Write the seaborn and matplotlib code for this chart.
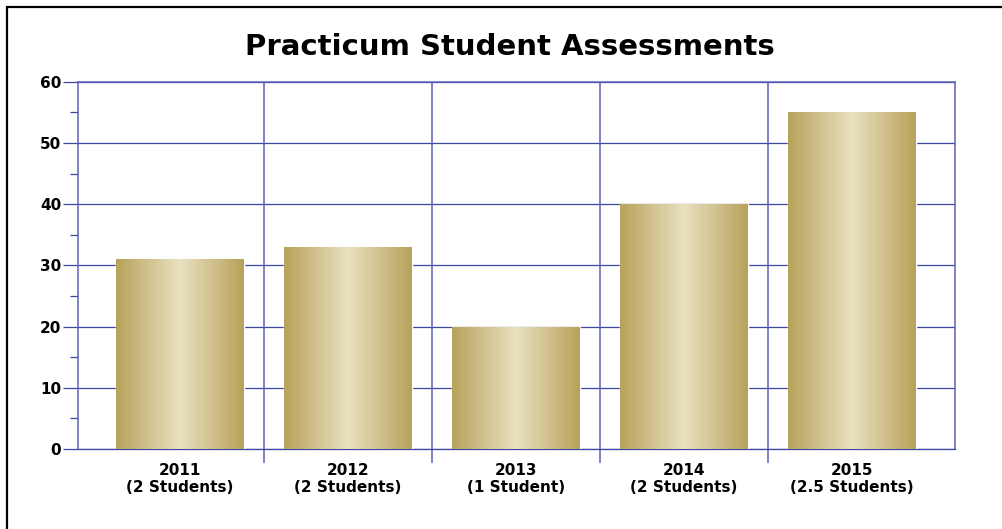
import numpy as np
import matplotlib.pyplot as plt
import seaborn as sns
from matplotlib.colors import LinearSegmentedColormap
from matplotlib.patches import Rectangle

years = ["2011", "2012", "2013", "2014", "2015"]
students = ["(2 Students)", "(2 Students)", "(1 Student)", "(2 Students)", "(2.5 Students)"]
scores = [31, 33, 20, 40, 55]

labels = [f"{y}\n{s}" for y, s in zip(years, students)]

sns.set_theme(style="white")
plt.rcParams['font.family'] = ['DejaVu Sans']

grid_col = '#3d45a2'
vgrid_col = '#5a62b6'

fig = plt.figure(figsize=(10.03, 5.29), dpi=100)
ax = fig.add_axes([0.0778, 0.1512, 0.874, 0.694])

sns.barplot(x=labels, y=scores, width=0.76, color='#c8b57a', ax=ax, zorder=3)

# gold gradient on each bar
gold = LinearSegmentedColormap.from_list('gold', ['#b8a15b', '#e9e1c1', '#b8a15b'])
grad = np.linspace(0, 1, 256).reshape(1, -1)
for p in ax.patches:
    x0, y0 = p.get_x(), p.get_y()
    w, h = p.get_width(), p.get_height()
    im = ax.imshow(grad, cmap=gold, aspect='auto', extent=[x0, x0 + w, y0, y0 + h],
                   zorder=4, interpolation='bicubic')
    im.set_clip_path(p)

ax.set_xlim(-0.607, 4.613)
ax.set_ylim(0, 60)
ax.set_yticks(range(0, 61, 10))
ax.set_yticks(range(5, 60, 10), minor=True)
ax.set_xticks(range(len(labels)))
ax.set_xticklabels(labels)
ax.set_xticks([0.5, 1.5, 2.5, 3.5], minor=True)

ax.yaxis.grid(True, color=grid_col, linewidth=0.9, zorder=1)
for xv in [0.5, 1.5, 2.5, 3.5]:
    ax.axvline(xv, color=vgrid_col, linewidth=1.1, zorder=1)

ax.tick_params(axis='y', which='major', length=11, width=0.9, color=grid_col, pad=1,
               labelsize=11, left=True)
ax.tick_params(axis='y', which='minor', length=6, width=0.9, color=grid_col, left=True)
ax.tick_params(axis='x', which='major', length=0, pad=10, labelsize=11)
ax.tick_params(axis='x', which='minor', length=10, width=1.1, color=vgrid_col, bottom=True)
for lab in ax.get_xticklabels() + ax.get_yticklabels():
    lab.set_fontweight('bold')
    lab.set_color('black')

for s in ax.spines.values():
    s.set_visible(True)
    s.set_color(vgrid_col)
    s.set_linewidth(1.1)
ax.spines['bottom'].set_color(grid_col)
ax.spines['bottom'].set_linewidth(0.9)

ax.set_xlabel('')
ax.set_ylabel('')

fig.text(0.508, 0.911, 'Practicum Student Assessments', ha='center', va='center',
         fontsize=21, fontweight='bold', color='black')

# outer frame
fig.patches.append(Rectangle((7 / 1003, -0.05), 1.1, 1 - 7 / 529 + 0.05, transform=fig.transFigure,
                             fill=False, edgecolor='black', linewidth=1.6))

fig.savefig('out.png', dpi=100)
